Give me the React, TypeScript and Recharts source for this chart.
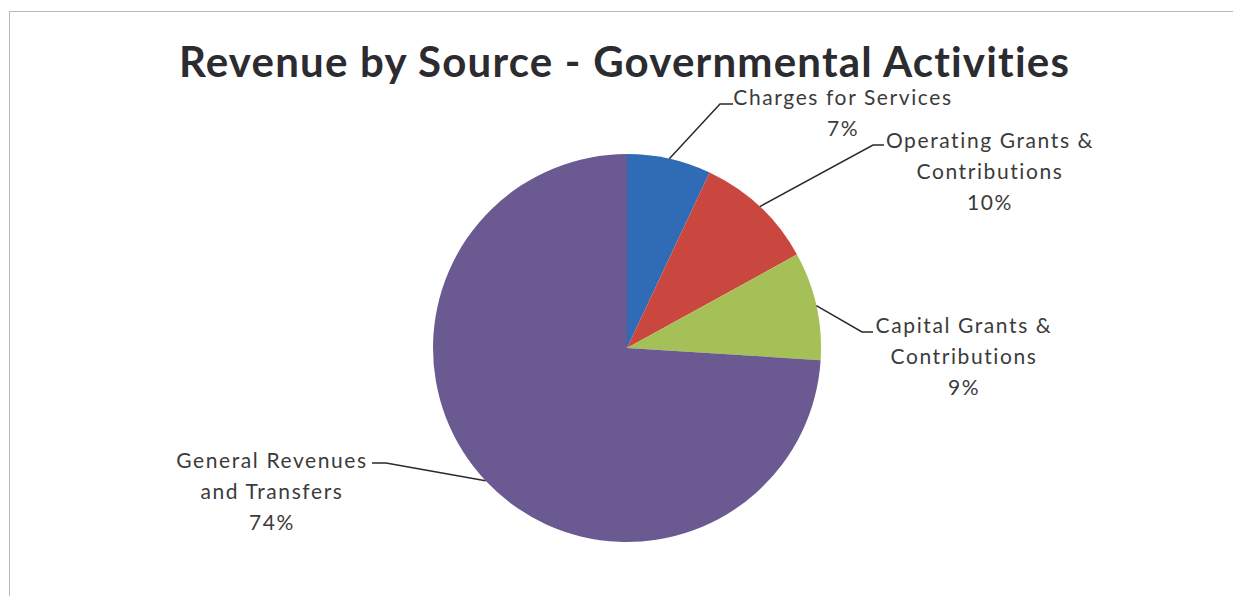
import React from "react";
import { PieChart, Pie, Cell } from "recharts";

const CATEGORIES = [
  "Charges for Services",
  "Operating Grants & Contributions",
  "Capital Grants & Contributions",
  "General Revenues and Transfers",
];
const VALUES = [7, 10, 9, 74];
const LABEL_LINES = [
  ["Charges for Services"],
  ["Operating Grants &", "Contributions"],
  ["Capital Grants &", "Contributions"],
  ["General Revenues", "and Transfers"],
];
const TITLE = "Revenue by Source - Governmental Activities";

const COLORS = ["#2f6cb5", "#c9473f", "#a4c057", "#6b5a92"];
const TEXT_COLOR = "#3b3b3b";
const FONT = 'Lato, "Open Sans", sans-serif';

// where each leader line bends, where it stops, and where its text sits
const LABEL_LAYOUT = [
  { bend: [720, 104], end: [733, 104], textX: 843, textY: 105 },
  { bend: [873, 145], end: [884, 145], textX: 990, textY: 148 },
  { bend: [862, 332], end: [873, 332], textX: 964, textY: 333 },
  { bend: [386, 463], end: [372, 463], textX: 272, textY: 468 },
];
const LINE_GAP = 31;

const chartData = CATEGORIES.map((name, i) => ({ name, value: VALUES[i] }));
const total = VALUES.reduce((a, b) => a + b, 0);

const RAD = Math.PI / 180;

function renderLabel(props: any) {
  const { cx, cy, midAngle, outerRadius, index, value } = props;
  const layout = LABEL_LAYOUT[index];
  const sx = cx + outerRadius * Math.cos(-midAngle * RAD);
  const sy = cy + outerRadius * Math.sin(-midAngle * RAD);
  const lines = [...LABEL_LINES[index], `${Math.round((value / total) * 100)}%`];
  return (
    <g key={`label-${index}`}>
      <polyline
        points={`${sx},${sy} ${layout.bend[0]},${layout.bend[1]} ${layout.end[0]},${layout.end[1]}`}
        fill="none"
        stroke="#2a2a2a"
        strokeWidth={1.5}
      />
      {lines.map((line, j) => (
        <text
          key={j}
          x={layout.textX}
          y={layout.textY + j * LINE_GAP}
          textAnchor="middle"
          fill={TEXT_COLOR}
          style={{ fontFamily: FONT, fontSize: 21, letterSpacing: 1.6 }}
        >
          {line}
        </text>
      ))}
    </g>
  );
}

export default function App() {
  return (
    <div style={{ position: "absolute", left: 0, top: 0, width: 1233, height: 596, background: "#fff", overflow: "hidden" }}>
      <div
        style={{
          position: "absolute",
          left: 9,
          top: 11,
          width: 1240,
          height: 600,
          borderTop: "1px solid #b8b8b8",
          borderLeft: "1px solid #b8b8b8",
        }}
      />
      <div
        style={{
          position: "absolute",
          left: 0,
          width: 1233,
          top: 36,
          textAlign: "center",
          paddingLeft: 16,
          boxSizing: "border-box",
          fontFamily: FONT,
          fontWeight: 700,
          fontSize: 42,
          letterSpacing: 1.2,
          color: "#2b2b30",
          lineHeight: "50px",
        }}
      >
        {TITLE}
      </div>
      <div style={{ position: "absolute", left: 0, top: 0 }}>
        <PieChart width={1233} height={596} margin={{ top: 0, right: 0, bottom: 0, left: 0 }}>
          <Pie
            data={chartData}
            dataKey="value"
            nameKey="name"
            cx={627}
            cy={348}
            outerRadius={194}
            startAngle={90}
            endAngle={-270}
            stroke="none"
            label={renderLabel}
            labelLine={false}
            isAnimationActive={false}
          >
            {chartData.map((_, i) => (
              <Cell key={i} fill={COLORS[i]} />
            ))}
          </Pie>
        </PieChart>
      </div>
    </div>
  );
}
